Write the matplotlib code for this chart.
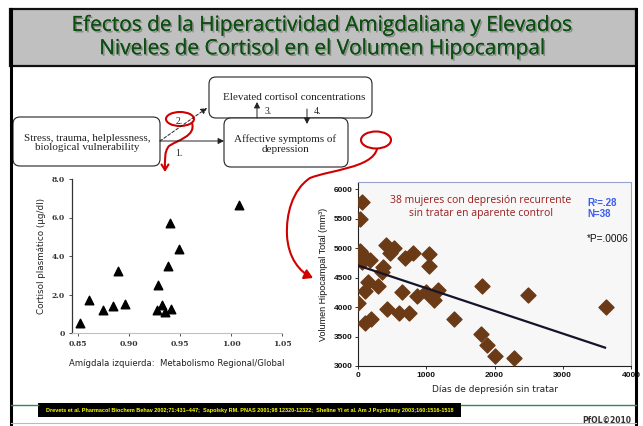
import matplotlib
matplotlib.use("Agg")
import matplotlib.pyplot as plt
import matplotlib.patheffects as pe
from matplotlib.patches import FancyBboxPatch, Rectangle, Ellipse, FancyArrowPatch
from matplotlib.path import Path
import numpy as np

W, H = 643, 426

# slide text
title = "Efectos de la Hiperactividad Amigdaliana y Elevados\nNiveles de Cortisol en el Volumen Hipocampal"
refs = ("Drevets et al. Pharmacol Biochem Behav 2002;71:431\u2013447;  Sapolsky RM. PNAS 2001;98 12320-12322;  "
        "Sheline YI et al. Am J Psychiatry 2003;160:1516-1518")

# left chart: amygdala metabolism vs plasma cortisol
amyg = [0.852, 0.861, 0.874, 0.884, 0.889, 0.896, 0.928, 0.927, 0.932, 0.935,
        0.941, 0.938, 0.940, 0.949, 1.008]
cortisol = [0.52, 1.73, 1.21, 1.39, 3.22, 1.52, 2.48, 1.21, 1.47, 1.07,
            1.25, 3.48, 5.71, 4.38, 6.65]
left_xticks = [0.85, 0.90, 0.95, 1.00, 1.05]
left_xlabels = ["0.85", "0.90", "0.95", "1.00", "1.05"]
left_yticks = [0, 2, 4, 6, 8]
left_ylabels = ["0", "2.0", "4.0", "6.0", "8.0"]

# right chart: days of untreated depression vs hippocampal volume
days = [59, 34, 24, 73, 63, 122, 171, 0, 102, 146, 98, 185, 288, 351, 366, 415,
        424, 473, 532, 600, 639, 683, 741, 805, 863, 1000, 1034, 1044, 1107, 1166,
        1405, 1810, 1805, 1883, 2010, 2283, 2493, 3634]
volume = [5779, 5490, 4953, 4868, 4760, 4828, 4800, 4075, 4273, 4421, 3724, 3798,
          4358, 4602, 4687, 5054, 3962, 4913, 4998, 3906, 4251, 4828, 3906, 4924,
          4189, 4251, 4902, 4698, 4126, 4296, 3792, 4364, 3543, 3362, 3170, 3136,
          4206, 4008]
fit_intercept = 4705
fit_slope = -0.385
fit_xmax = 3620
right_xticks = [0, 1000, 2000, 3000, 4000]
right_yticks = [3000, 3500, 4000, 4500, 5000, 5500, 6000]


def rect(l, t, r, b):
    return [l / W, 1 - b / H, (r - l) / W, (b - t) / H]


fig = plt.figure(figsize=(W / 100, H / 100), dpi=100)
fig.patch.set_facecolor("white")

# ---- left scatter
ax1 = fig.add_axes(rect(72, 179, 282, 333))
ax1.scatter(amyg, cortisol, marker="^", s=38, color="black", zorder=3)
ax1.set_xlim(0.844, 1.05)
ax1.set_ylim(0, 8)
ax1.set_xticks(left_xticks)
ax1.set_xticklabels(left_xlabels)
ax1.set_yticks(left_yticks)
ax1.set_yticklabels(left_ylabels)
for s in ["top", "right"]:
    ax1.spines[s].set_visible(False)
ax1.spines["left"].set_color("#333333")
ax1.spines["left"].set_linewidth(0.9)
ax1.spines["bottom"].set_color("#b8c0d8")
ax1.spines["bottom"].set_linestyle((0, (1, 1)))
ax1.tick_params(axis="both", length=2, width=0.6, labelsize=5.5, pad=3, colors="#333333")
for lab in ax1.get_xticklabels() + ax1.get_yticklabels():
    lab.set_family("DejaVu Serif")
    lab.set_fontweight("bold")
ax1.set_ylabel("Cortisol plasmático (µg/dl)", fontsize=6.3, color="#222222",
               family="DejaVu Sans", labelpad=4)
ax1.set_xlabel("Amígdala izquierda:  Metabolismo Regional/Global", fontsize=6.1,
               color="#222222", family="DejaVu Sans", labelpad=8)

# ---- right scatter
ax2 = fig.add_axes(rect(358, 182, 631, 366))
ax2.set_facecolor("#f7f7f7")
ax2.scatter(days, volume, marker="D", s=58, color="#6b3a16", zorder=3)
xs = np.array([0, fit_xmax])
ax2.plot(xs, fit_intercept + fit_slope * xs, color="#15152a", lw=1.6, zorder=4)
ax2.set_xlim(0, 4000)
ax2.set_ylim(3000, 6120)
ax2.set_xticks(right_xticks)
ax2.set_yticks(right_yticks)
for s in ["top", "right"]:
    ax2.spines[s].set_color("#9aa3cf")
for s in ["left", "bottom"]:
    ax2.spines[s].set_color("#222222")
ax2.tick_params(axis="both", length=2, width=0.6, labelsize=6, pad=2, colors="#111111")
for lab in ax2.get_xticklabels() + ax2.get_yticklabels():
    lab.set_family("Liberation Sans")
    lab.set_fontweight("bold")
ax2.set_ylabel("Volumen Hipocampal Total (mm\u00b3)", fontsize=6.5, family="Liberation Sans",
               color="#111111", labelpad=4)
ax2.set_xlabel("Días de depresión sin tratar", fontsize=6.5, family="DejaVu Sans",
               color="#222222", labelpad=4)
ax2.text(0.45, 0.93, "38 mujeres con depresión recurrente\nsin tratar en aparente control",
         transform=ax2.transAxes, ha="center", va="top", fontsize=7.5, color="#9b1c1c",
         family="Open Sans", linespacing=1.3)
ax2.text(0.84, 0.915, "R\u00b2=.28\nN=38", transform=ax2.transAxes, ha="left", va="top",
         fontsize=7, color="#3a5cf0", family="Liberation Sans", fontweight="bold",
         linespacing=1.2)
ax2.text(0.84, 0.72, "*P=.0006", transform=ax2.transAxes, ha="left", va="top",
         fontsize=7.3, color="#111111", family="Liberation Sans")

# ---- overlay for slide decorations and diagram
ov = fig.add_axes([0, 0, 1, 1], zorder=10)
ov.set_xlim(0, W)
ov.set_ylim(H, 0)
ov.axis("off")
ov.patch.set_alpha(0)

# title bar
ov.add_patch(Rectangle((10, 9), 626, 57, facecolor="#c0c0c0", edgecolor="#111111", lw=1.6))
ov.plot([11, 11], [9, 426], color="black", lw=2.2)
ov.plot([636, 636], [9, 426], color="black", lw=2.2)
ov.plot([11, 636], [423, 423], color="#bbbbbb", lw=0.8)
ov.text(322, 37, title, ha="center", va="center", fontsize=15, color="#0a4f10",
        family="Open Sans", linespacing=1.15,
        path_effects=[pe.withSimplePatchShadow(offset=(1.2, -1.2), shadow_rgbFace="#555555", alpha=0.5),
                      pe.Normal()])

# diagram boxes
serif = "Liberation Serif"
ov.add_patch(FancyBboxPatch((13, 117), 147, 49, boxstyle="round,pad=0,rounding_size=7",
                            facecolor="white", edgecolor="#222222", lw=0.8))
ov.add_patch(FancyBboxPatch((209, 77), 163, 41, boxstyle="round,pad=0,rounding_size=7",
                            facecolor="white", edgecolor="#222222", lw=0.8))
ov.add_patch(FancyBboxPatch((224, 118), 124, 49, boxstyle="round,pad=0,rounding_size=7",
                            facecolor="white", edgecolor="#222222", lw=0.8))
ov.text(87, 143, "Stress, trauma, helplessness,\nbiological vulnerability", ha="center", va="center",
        fontsize=8, family=serif, color="#222222", linespacing=1.05)
ov.text(294, 97, "Elevated cortisol concentrations", ha="center", va="center",
        fontsize=8, family=serif, color="#222222")
ov.text(285, 144, "Affective symptoms of\ndepression", ha="center", va="center",
        fontsize=8, family=serif, color="#222222", linespacing=1.05)

arr = dict(arrowstyle="-|>,head_length=0.35,head_width=0.18", color="#222222", lw=0.7,
           shrinkA=0, shrinkB=0)
ov.annotate("", xy=(224, 141), xytext=(160, 141), arrowprops=arr)
ov.annotate("", xy=(207, 108), xytext=(160, 141),
            arrowprops=dict(arr, linestyle=(0, (3, 2))))
ov.annotate("", xy=(257, 102), xytext=(257, 118), arrowprops=arr)
ov.annotate("", xy=(307, 124), xytext=(307, 109), arrowprops=arr)
for lx, ly, s in [(179, 154, "1."), (179, 121, "2."), (268, 112, "3."), (317, 112, "4.")]:
    ov.text(lx, ly, s, ha="center", va="center", fontsize=7, family=serif, color="#222222")

# red hand-drawn marks
red = "#d00000"
ov.add_patch(Ellipse((180, 119), 28, 14, fill=False, edgecolor=red, lw=1.5))
p1 = Path([(192, 123), (196, 136), (178, 140), (169, 146), (164, 152), (165, 160), (165, 172)],
          [Path.MOVETO, Path.CURVE4, Path.CURVE4, Path.CURVE4, Path.CURVE4, Path.CURVE4, Path.CURVE4])
ov.add_patch(FancyArrowPatch(path=p1, arrowstyle="->,head_length=4,head_width=2.5",
                             color=red, lw=1.5))
ov.add_patch(Ellipse((376, 140), 30, 17, fill=False, edgecolor=red, lw=1.5))
p2 = Path([(377, 149), (372, 168), (330, 170), (310, 178),
           (292, 190), (286, 215), (287, 235),
           (288, 258), (300, 272), (313, 278)],
          [Path.MOVETO, Path.CURVE4, Path.CURVE4, Path.CURVE4,
           Path.CURVE4, Path.CURVE4, Path.CURVE4,
           Path.CURVE4, Path.CURVE4, Path.CURVE4])
ov.add_patch(FancyArrowPatch(path=p2, arrowstyle="-|>,head_length=5,head_width=3",
                             color=red, lw=1.5))

# footer
ov.plot([11, 38], [405, 405], color="#2e8b57", lw=1)
ov.plot([461, 636], [405, 405], color="#2e8b57", lw=1)
ov.add_patch(Rectangle((38, 403), 423, 14, facecolor="black", edgecolor="none"))
ov.text(249.5, 410.5, refs, ha="center", va="center", fontsize=3.95, color="#ffff00",
        family="Liberation Sans", fontweight="bold")
ov.text(631, 420, "PfOL\u00a92010", ha="right", va="center", fontsize=5.5, color="#333333",
        family="DejaVu Sans", fontweight="bold")

fig.savefig("out.png", dpi=100)
